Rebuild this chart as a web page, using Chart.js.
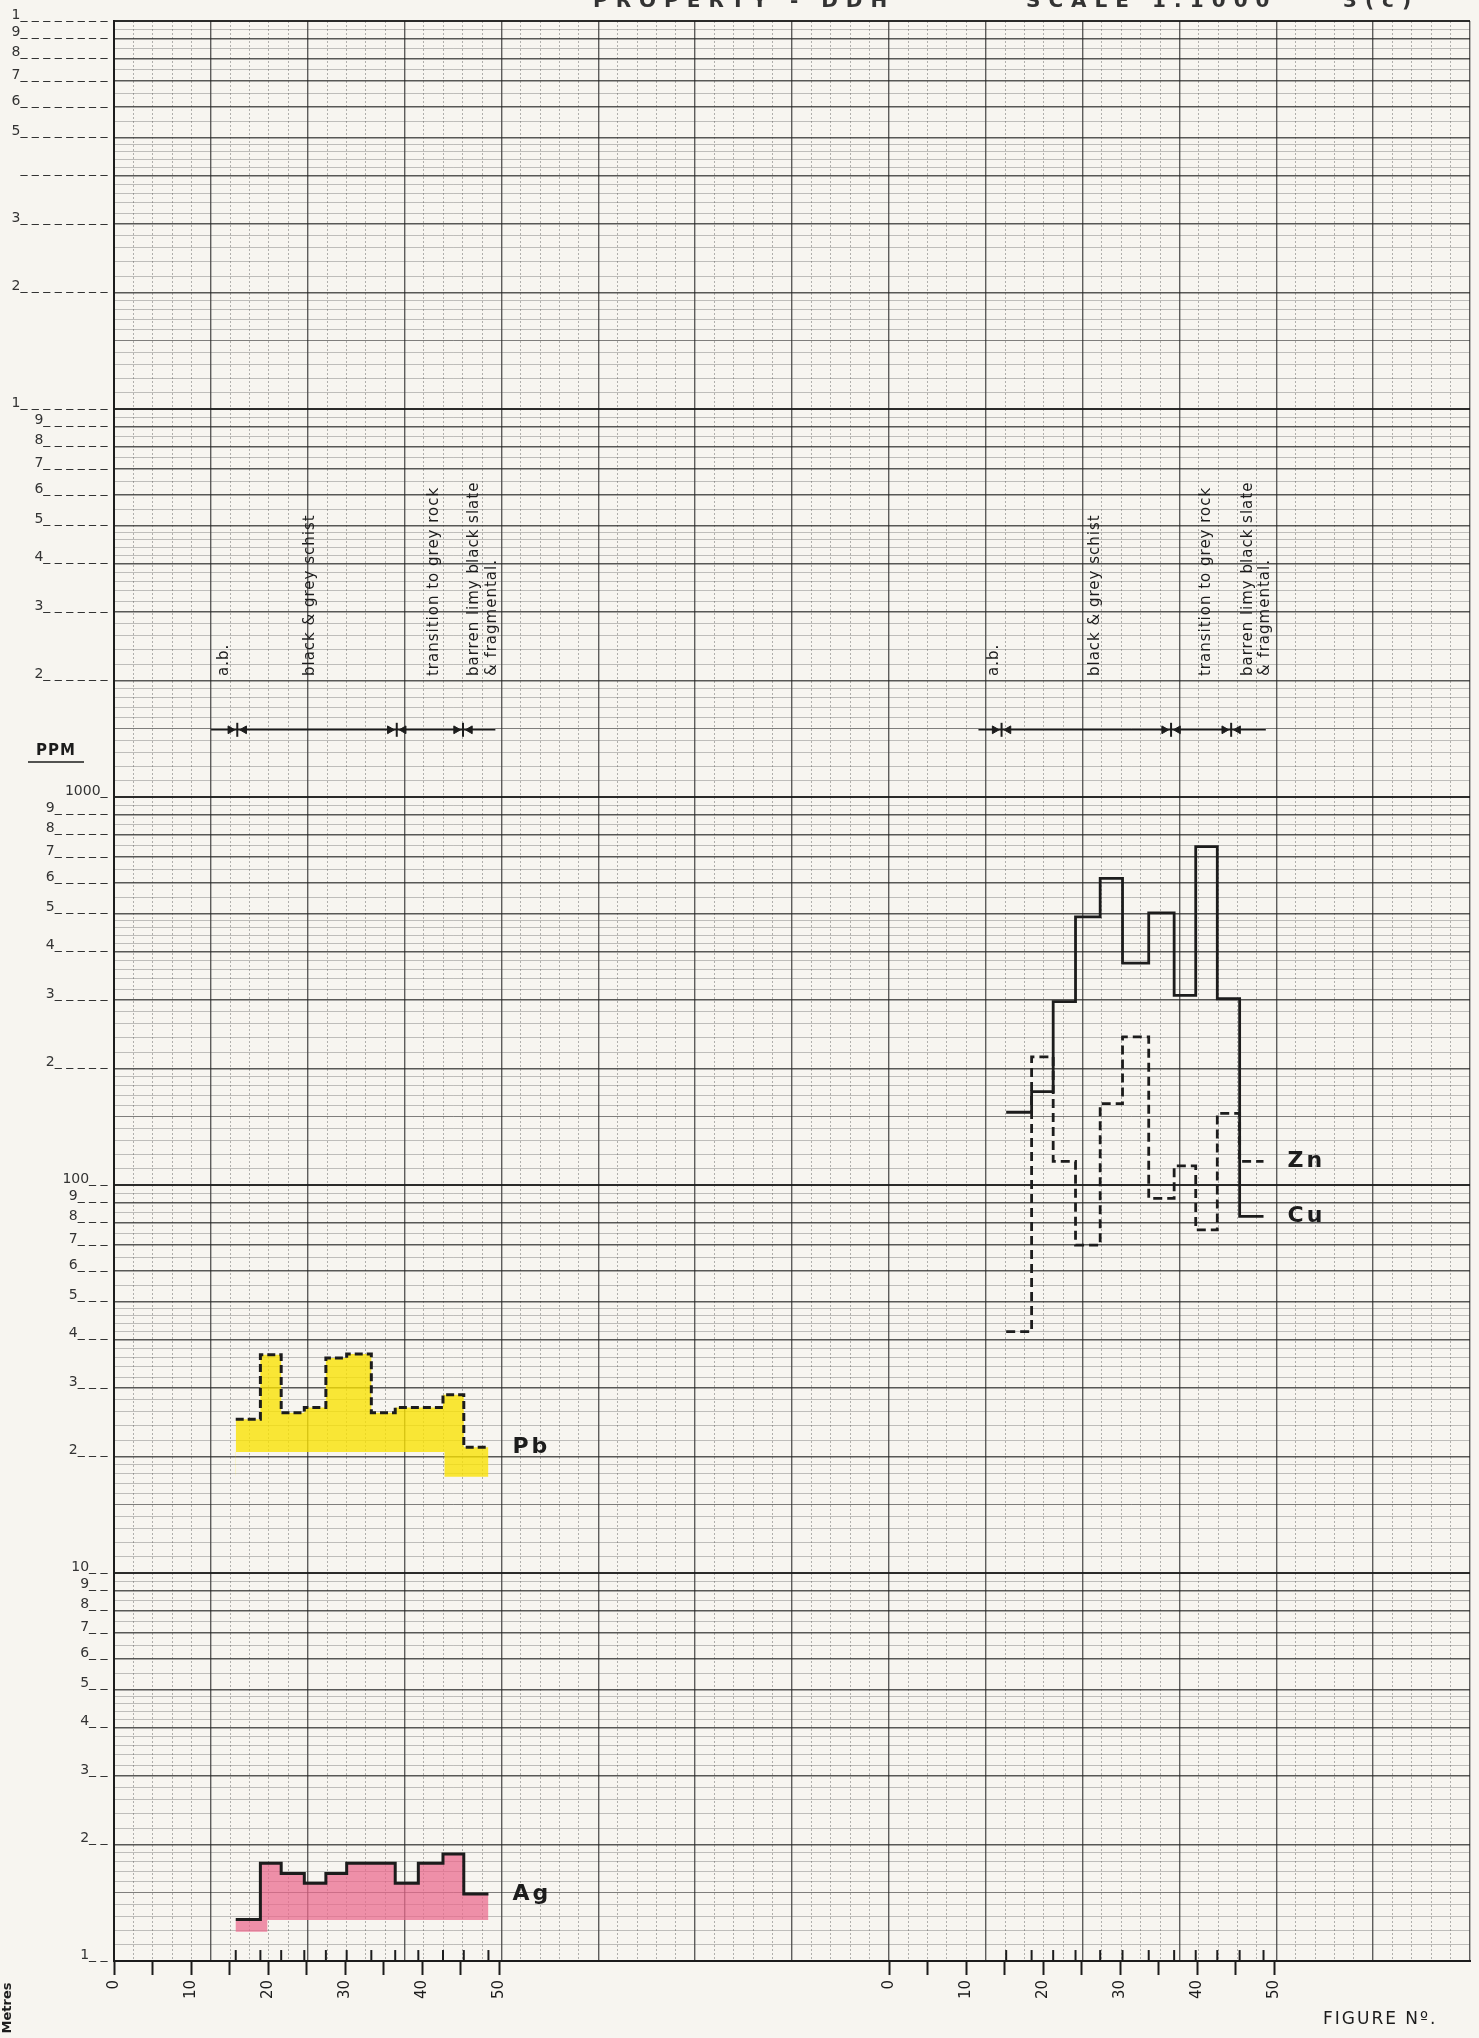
<!DOCTYPE html>
<html>
<head>
<meta charset="utf-8">
<title>Drill hole geochemistry log</title>
<script src="https://cdn.jsdelivr.net/npm/chart.js@4.4.1/dist/chart.umd.min.js"></script>
<style>
  html, body { margin: 0; padding: 0; background: #f7f5f0; }
  #wrap { position: relative; width: 1479px; height: 2038px; }
</style>
</head>
<body>
<div id="wrap"><canvas id="log"></canvas></div>
<script>
// sample intervals down the hole (metres); each value holds until the next depth
const leftDepths = [15.8, 19.0, 21.7, 24.7, 27.5, 30.2, 33.4, 36.5, 39.5, 42.7, 45.4, 48.6];
const pbPpm = [24.9, 36.5, 25.9, 26.7, 35.8, 36.7, 25.9, 26.7, 26.7, 28.8, 21.1];
const agPpm = [1.28, 1.785, 1.68, 1.586, 1.68, 1.785, 1.785, 1.586, 1.785, 1.887, 1.488];

const rightDepths = [15.2, 18.5, 21.3, 24.2, 27.4, 30.3, 33.7, 37.0, 39.8, 42.6, 45.5, 48.6];
const cuPpm = [154, 174, 297, 491, 617, 373, 503, 308, 745, 302, 83];
const znPpm = [41.9, 214, 115, 70, 162, 241, 92.4, 112, 76.6, 153, 115];

// lower edge of the hand colouring under Pb and Ag
const pbShadeDepths = [15.2, 42.9, 48.6];
const pbShadeLow = [20.5, 17.7, 17.7];
const agShadeDepths = [15.2, 19.9, 48.7];
const agShadeLow = [1.19, 1.275, 1.275];

// lithology
const units = ['a.b.', 'black & grey schist', 'transition to grey rock', 'barren limy black slate', '& fragmental.'];
const unitTextLeft = [14.3, 25.5, 41.6, 46.8, 49.1];
const unitTextRight = [13.6, 26.7, 41.1, 46.6, 48.8];
const contactsLeft = [16.0, 36.7, 45.3];
const contactsRight = [14.6, 36.6, 44.4];
const contactLineLeft = [12.6, 49.5];
const contactLineRight = [11.6, 48.9];
const contactPpm = 1490;
const unitTextPpm = 2050;
const sampleMarkPpm = 1.036;

// axes
const metreTicks = [0, 5, 10, 15, 20, 25, 30, 35, 40, 45, 50];
const RIGHT_PANEL = 100.6;   // where the Cu/Zn panel's 0 m sits on the sheet
const decadeText = ['1', '10', '100', '1000', '1', '1'];
const digitText = ['2', '3', '4', '5', '6', '7', '8', '9'];
const holePunched = [40000];
const paperMantissas = [1, 1.1, 1.2, 1.3, 1.4, 1.5, 1.6, 1.7, 1.8, 1.9,
  2, 2.2, 2.4, 2.6, 2.8, 3, 3.2, 3.4, 3.6, 3.8, 4, 4.2, 4.4, 4.6, 4.8,
  5, 5.5, 6, 6.5, 7, 7.5, 8, 8.5, 9, 9.5];

// leader dashes ("9_ _ _") per cycle, printed on the sheet
const decadeLeader = [2, 2, 2, 1, 8, 8];
const digitLeader = [2, 3, 5, 6, 8];

const INK = '#1c1c1c';
const FONT = '"DejaVu Sans", sans-serif';
const ARROW_GAP = 0.9;

function stepPoints(depths, values, offset) {
  const pts = values.map((v, i) => ({ x: depths[i] + offset, y: v }));
  pts.push({ x: depths[depths.length - 1] + offset, y: values[values.length - 1] });
  return pts;
}
function pairPoints(xs, ys, offset) {
  return xs.map((d, i) => ({ x: d + offset, y: ys[i] }));
}
function split(v) {
  const e = Math.floor(Math.log10(v) + 1e-9);
  return { e: e, m: v / Math.pow(10, e) };
}

var yTickValues = [];
for (let e = 0; e < 5; e++) {
  paperMantissas.forEach(m => yTickValues.push(+(m * Math.pow(10, e)).toPrecision(6)));
}
yTickValues.push(100000);

function yLabel(v) {
  const s = split(v);
  const k = Math.round(s.m);
  if (Math.abs(s.m - k) > 1e-6) return '';
  let text = k === 1 ? decadeText[s.e] : digitText[k - 2];
  if (holePunched.includes(v)) text = '';
  const n = k === 1 ? decadeLeader[s.e] : digitLeader[s.e];
  return text + '_ '.repeat(n);
}

var samples = [
  ...leftDepths.map(d => ({ x: d, y: sampleMarkPpm })),
  ...rightDepths.map(d => ({ x: d + RIGHT_PANEL, y: sampleMarkPpm }))
];
var contacts = [
  ...contactsLeft.map(d => ({ x: d, y: contactPpm })),
  ...contactsRight.map(d => ({ x: d + RIGHT_PANEL, y: contactPpm }))
];

const sheetText = {
  id: 'sheetText',
  afterDatasetsDraw(chart) {
    const { ctx, scales } = chart;
    const x = scales.x, y = scales.y;
    ctx.save();
    ctx.fillStyle = INK;
    ctx.strokeStyle = INK;

    // lithology lettering, reading upward
    ctx.font = '15px ' + FONT;
    ctx.letterSpacing = '1px';
    ctx.textAlign = 'left';
    ctx.textBaseline = 'middle';
    const foot = y.getPixelForValue(unitTextPpm);
    [[unitTextLeft, 0], [unitTextRight, RIGHT_PANEL]].forEach(([pos, off]) => {
      units.forEach((t, i) => {
        ctx.save();
        ctx.translate(x.getPixelForValue(pos[i] + off), foot);
        ctx.rotate(-Math.PI / 2);
        ctx.fillText(t, 0, 0);
        ctx.restore();
      });
    });

    // element names at the end of each trace
    ctx.font = 'bold 22px ' + FONT;
    ctx.letterSpacing = '3px';
    chart.data.datasets.forEach((ds, i) => {
      if (!ds.named) return;
      const pts = chart.getDatasetMeta(i).data;
      const last = pts[pts.length - 1];
      ctx.fillText(ds.label, last.x + 24, last.y);
    });

    // PPM heading on the value axis
    ctx.font = 'bold 15px ' + FONT;
    ctx.letterSpacing = '1px';
    ctx.textAlign = 'center';
    const ppmY = y.getPixelForValue(1314);
    ctx.fillText('PPM', 56, ppmY);
    ctx.lineWidth = 1.5;
    ctx.beginPath();
    ctx.moveTo(28, ppmY + 11);
    ctx.lineTo(84, ppmY + 11);
    ctx.stroke();

    // Metres, reading upward
    ctx.save();
    ctx.font = 'bold 13px ' + FONT;
    ctx.letterSpacing = '0px';
    ctx.translate(8, 2008);
    ctx.rotate(-Math.PI / 2);
    ctx.fillText('Metres', 0, 0);
    ctx.restore();

    ctx.textAlign = 'left';
    ctx.font = '17px ' + FONT;
    ctx.letterSpacing = '2px';
    ctx.fillText('FIGURE N\u00BA.', 1323, 2020);

    // sheet heading, cut by the top of the scan
    ctx.font = 'bold 20px ' + FONT;
    ctx.letterSpacing = '8px';
    ctx.textBaseline = 'alphabetic';
    ctx.fillStyle = '#333';
    [['PROPERTY - DDH', 593], ['SCALE 1:1000', 1026], ['3(c)', 1343]].forEach(([t, px]) => {
      ctx.fillText(t, px, 7);
    });
    ctx.restore();
  }
};

new Chart(document.getElementById('log'), {
  type: 'line',
  data: {
    datasets: [
      { label: 'Pb', named: true, data: stepPoints(leftDepths, pbPpm, 0), stepped: true,
        borderColor: INK, borderWidth: 3, borderDash: [8, 4], pointRadius: 0,
        fill: '+1', backgroundColor: 'rgba(250,226,0,0.78)' },
      { label: 'Pb shade', data: pairPoints(pbShadeDepths, pbShadeLow, 0), stepped: true,
        borderColor: 'transparent', borderWidth: 0, pointRadius: 0, fill: false },
      { label: 'Ag', named: true, data: stepPoints(leftDepths, agPpm, 0), stepped: true,
        borderColor: INK, borderWidth: 3, pointRadius: 0,
        fill: '+1', backgroundColor: 'rgba(234,104,140,0.72)' },
      { label: 'Ag shade', data: pairPoints(agShadeDepths, agShadeLow, 0), stepped: true,
        borderColor: 'transparent', borderWidth: 0, pointRadius: 0, fill: false },
      { label: 'Cu', named: true, data: stepPoints(rightDepths, cuPpm, RIGHT_PANEL), stepped: true,
        borderColor: INK, borderWidth: 2.8, pointRadius: 0, fill: false },
      { label: 'Zn', named: true, data: stepPoints(rightDepths, znPpm, RIGHT_PANEL), stepped: true,
        borderColor: INK, borderWidth: 2.8, borderDash: [9, 5], pointRadius: 0, fill: false },
      { label: 'sample marks', data: samples, showLine: false,
        pointStyle: 'line', pointRotation: 90, pointRadius: 5, pointBorderColor: INK, pointBorderWidth: 2 },
      { label: 'contact line left', data: contactLineLeft.map(d => ({ x: d, y: contactPpm })),
        borderColor: INK, borderWidth: 1.5, pointRadius: 0, fill: false },
      { label: 'contact line right', data: contactLineRight.map(d => ({ x: d + RIGHT_PANEL, y: contactPpm })),
        borderColor: INK, borderWidth: 1.5, pointRadius: 0, fill: false },
      { label: 'contacts', data: contacts, showLine: false,
        pointStyle: 'line', pointRotation: 90, pointRadius: 7, pointBorderColor: INK, pointBorderWidth: 2 },
      { label: 'arrow in', data: contacts.map(p => ({ x: p.x - ARROW_GAP, y: p.y })), showLine: false,
        pointStyle: 'triangle', pointRotation: 90, pointRadius: 4.5,
        pointBackgroundColor: INK, pointBorderColor: INK, pointBorderWidth: 1 },
      { label: 'arrow back', data: contacts.map(p => ({ x: p.x + ARROW_GAP, y: p.y })), showLine: false,
        pointStyle: 'triangle', pointRotation: -90, pointRadius: 4.5,
        pointBackgroundColor: INK, pointBorderColor: INK, pointBorderWidth: 1 }
    ]
  },
  options: {
    responsive: true,
    maintainAspectRatio: false,
    devicePixelRatio: 1,
    animation: false,
    layout: { padding: { top: 21, right: 0, bottom: 0, left: 0 } },
    plugins: {
      legend: { display: false },
      tooltip: { enabled: false },
      title: { display: false }
    },
    scales: {
      x: {
        type: 'linear', position: 'bottom', min: 0, max: 176,
        afterBuildTicks: s => {
          s.ticks = [...metreTicks.map(v => ({ value: v })),
                     ...metreTicks.map(v => ({ value: v + RIGHT_PANEL }))];
        },
        afterFit: s => { s.height = 77; },
        grid: { drawOnChartArea: false, drawTicks: true, tickLength: 14, tickColor: INK, tickWidth: 2 },
        border: { display: true, color: INK, width: 2 },
        ticks: {
          autoSkip: false, minRotation: 90, maxRotation: 90, padding: 5,
          color: INK, font: { family: FONT, size: 15 },
          callback: value => {
            const rel = Math.round(value >= RIGHT_PANEL - 0.01 ? value - RIGHT_PANEL : value);
            return rel % 10 === 0 ? String(rel) : '';
          }
        }
      },
      xp: {
        type: 'linear', position: 'bottom', min: 0, max: 14,
        afterBuildTicks: s => {
          const t = [];
          for (let i = 0; i <= 70; i++) t.push({ value: i / 5 });
          s.ticks = t;
        },
        afterFit: s => { s.height = 0; },
        ticks: { display: false },
        grid: {
          drawTicks: false,
          color: c => (c.tick && Math.abs(c.tick.value - Math.round(c.tick.value)) < 1e-6)
            ? 'rgba(35,35,35,0.72)' : 'rgba(70,70,70,0.4)',
          lineWidth: c => (c.tick && Math.abs(c.tick.value - Math.round(c.tick.value)) < 1e-6) ? 1.4 : 1
        },
        border: {
          display: false,
          dash: c => (c.tick && Math.abs(c.tick.value - Math.round(c.tick.value)) > 1e-6) ? [2, 2] : []
        }
      },
      y: {
        type: 'logarithmic', position: 'left', min: 1, max: 100000,
        afterBuildTicks: s => { s.ticks = yTickValues.map(v => ({ value: v })); },
        afterFit: s => { s.width = 114; },
        grid: {
          drawTicks: false,
          color: c => {
            if (!c.tick) return 'rgba(70,70,70,0.32)';
            const m = split(c.tick.value).m;
            if (Math.abs(m - 1) < 1e-6) return 'rgba(25,25,25,0.92)';
            if (Math.abs(m - Math.round(m)) < 1e-6) return 'rgba(35,35,35,0.75)';
            if (Math.abs(m - 1.5) < 1e-6) return 'rgba(40,40,40,0.58)';
            return 'rgba(70,70,70,0.32)';
          },
          lineWidth: c => {
            if (!c.tick) return 1;
            const m = split(c.tick.value).m;
            if (Math.abs(m - 1) < 1e-6) return 2;
            if (Math.abs(m - Math.round(m)) < 1e-6) return 1.4;
            return 1;
          }
        },
        border: { display: true, color: INK, width: 2 },
        ticks: {
          autoSkip: false, padding: 2, labelOffset: -6,
          color: '#333', font: { family: FONT, size: 14 },
          callback: value => yLabel(value)
        }
      }
    }
  },
  plugins: [sheetText]
});
</script>
</body>
</html>
